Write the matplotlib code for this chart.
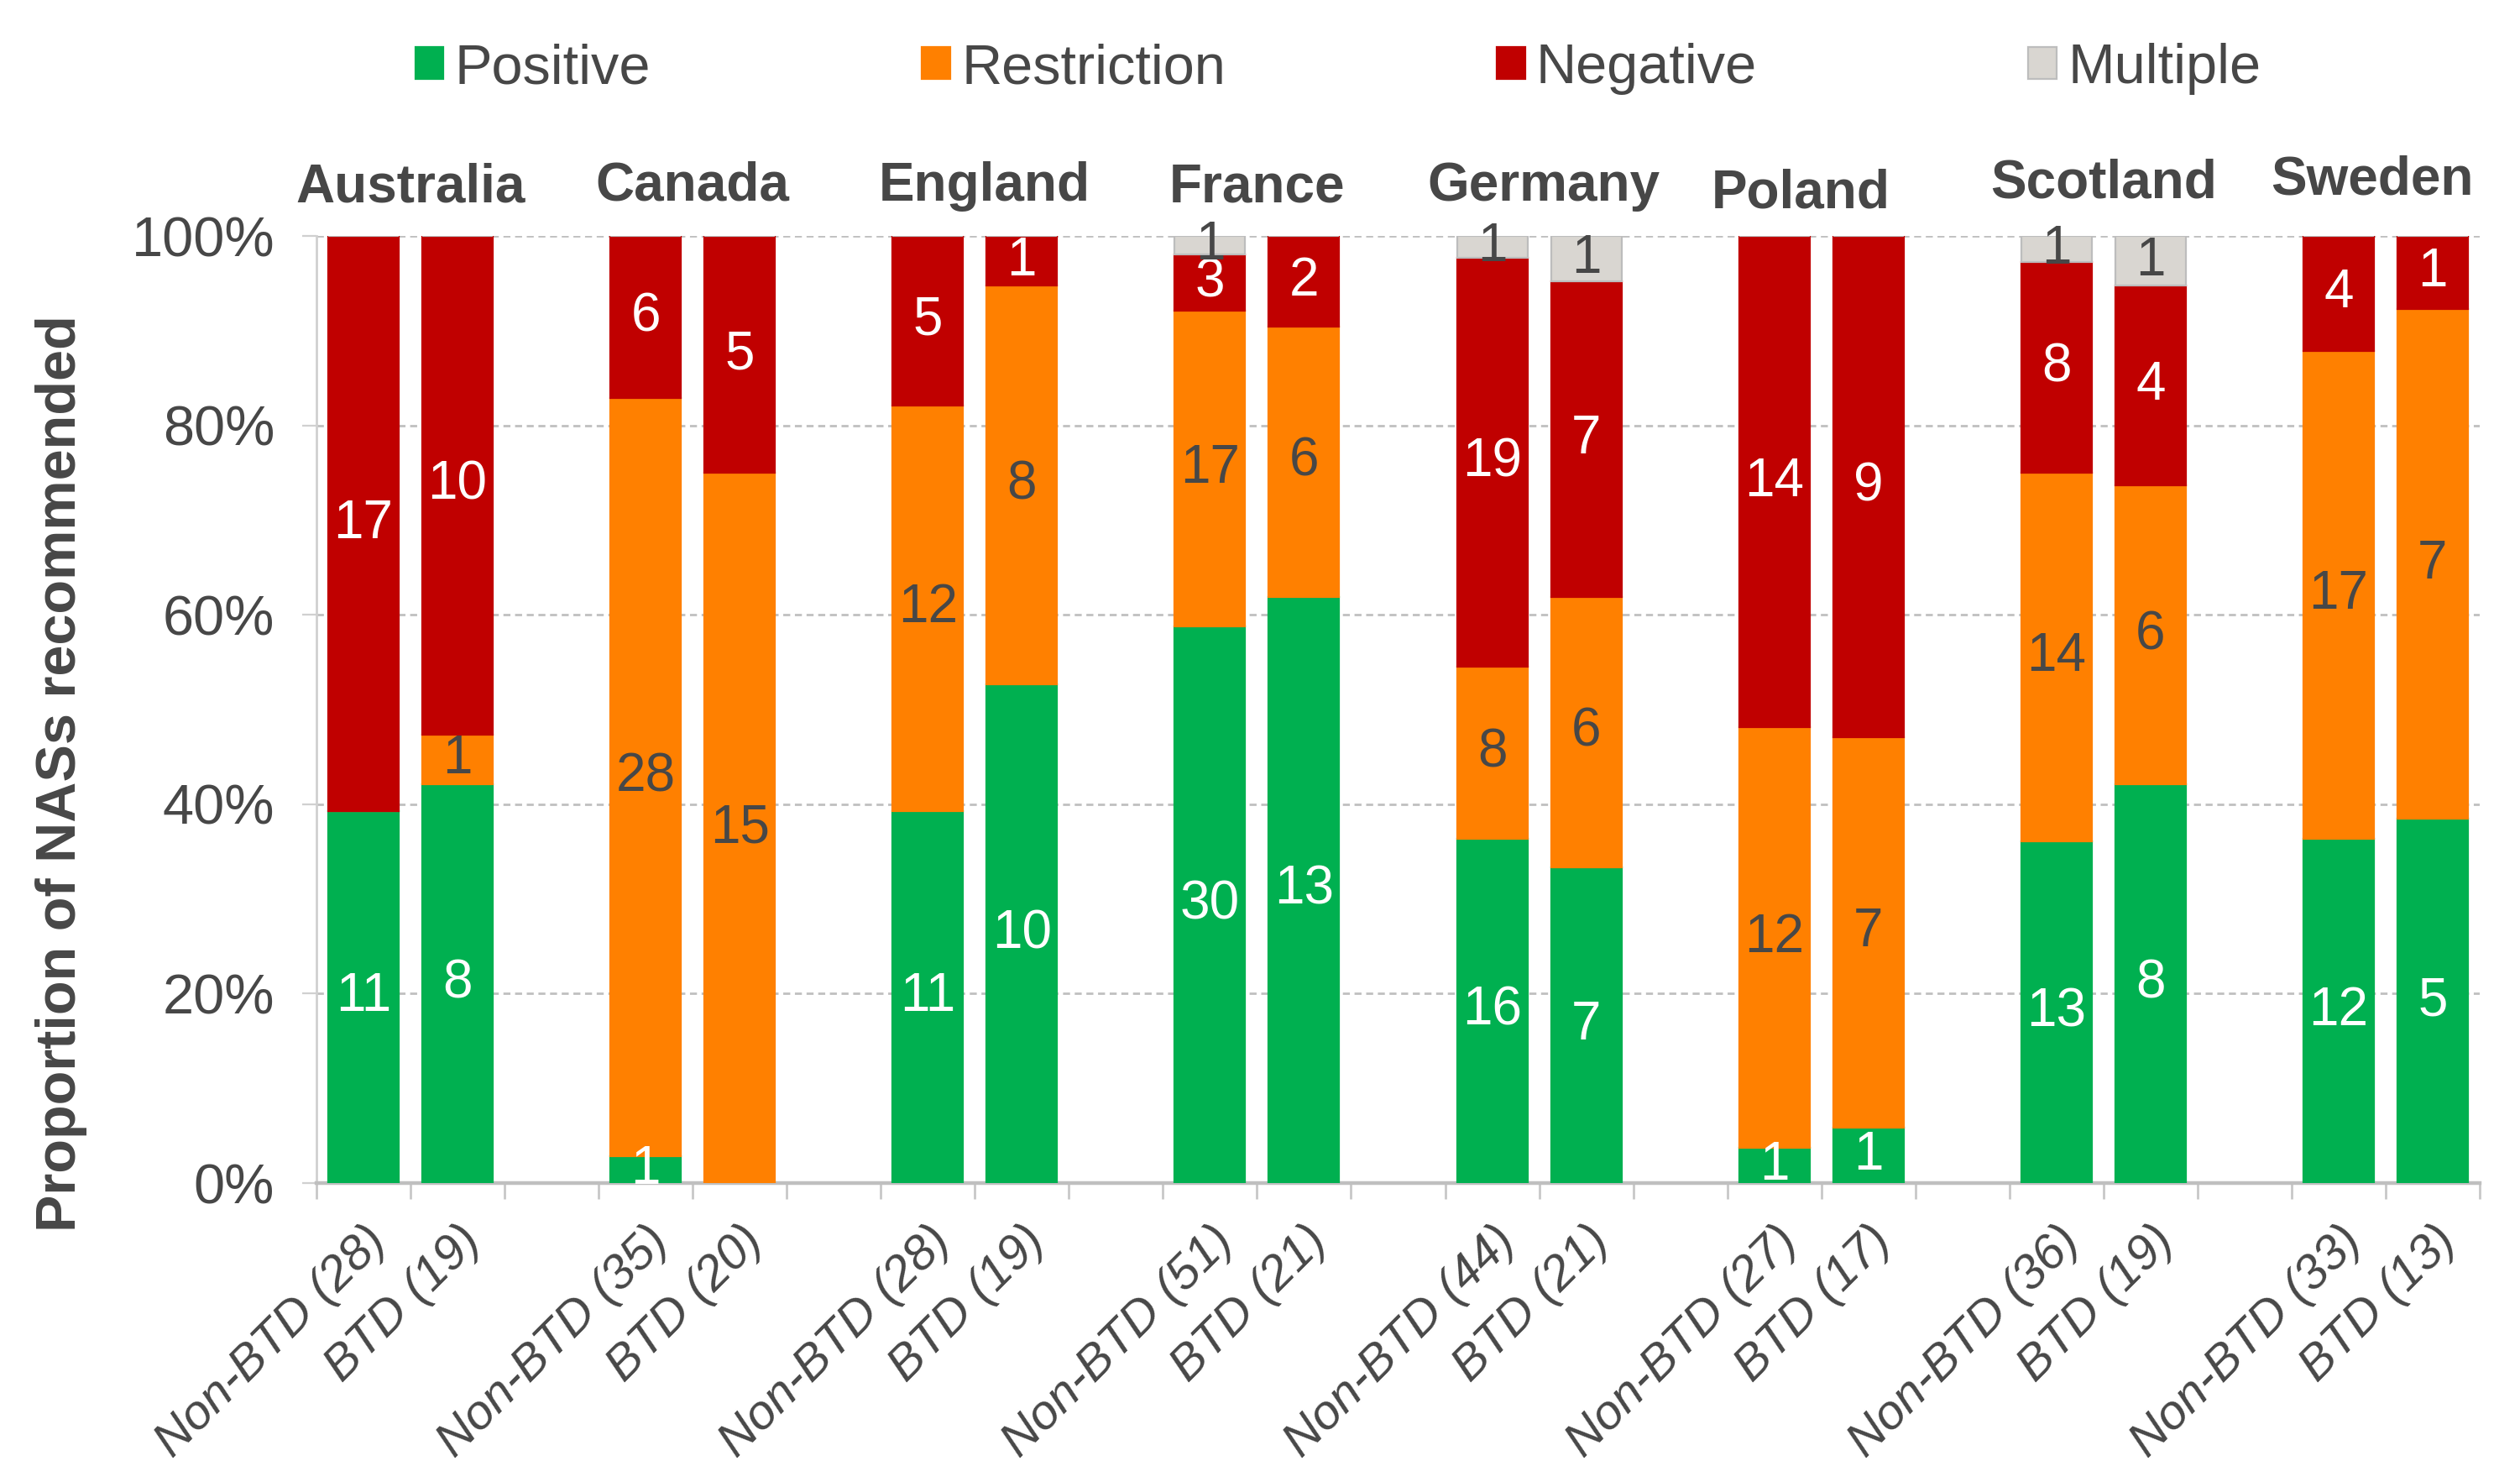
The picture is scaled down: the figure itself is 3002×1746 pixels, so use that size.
import matplotlib
matplotlib.use("Agg")
import matplotlib.pyplot as plt
import matplotlib.transforms as mtransforms
from matplotlib.ticker import FuncFormatter, FixedLocator
import numpy as np

plt.rcParams["font.family"] = ["Liberation Sans", "DejaVu Sans"]

# data: one value per bar, ordered country by country (Non-BTD, BTD)
countries = ["Australia", "Canada", "England", "France", "Germany", "Poland", "Scotland", "Sweden"]
positive = [11, 8, 1, 0, 11, 10, 30, 13, 16, 7, 1, 1, 13, 8, 12, 5]
restriction = [0, 1, 28, 15, 12, 8, 17, 6, 8, 6, 12, 7, 14, 6, 17, 7]
negative = [17, 10, 6, 5, 5, 1, 3, 2, 19, 7, 14, 9, 8, 4, 4, 1]
multiple = [0, 0, 0, 0, 0, 0, 1, 0, 1, 1, 0, 0, 1, 1, 0, 0]
groups = ["Non-BTD", "BTD"]

series = [
    ("Positive", positive, "#00B050", "white"),
    ("Restriction", restriction, "#FF8000", "#474747"),
    ("Negative", negative, "#C00000", "white"),
    ("Multiple", multiple, "#D9D6D1", "#474747"),
]

TXT = "#474747"
FS = 24

counts = np.array([positive, restriction, negative, multiple], dtype=float)
totals = counts.sum(axis=0)
share = counts / totals * 100

x = np.array([3 * g + i for g in range(len(countries)) for i in range(2)])
labels = [f"{groups[i % 2]} ({int(t)})" for i, t in enumerate(totals)]

fig = plt.figure(figsize=(15.01, 8.73), dpi=200)
ax = fig.add_axes([0.1256, 0.193, 0.8584, 0.646])

bottom = np.zeros(len(x))
for k, (name, vals, color, tcol) in enumerate(series):
    ec = "#BDBDBD" if name == "Multiple" else color
    ax.bar(x, share[k], 0.75, bottom=bottom, color=color, edgecolor=ec,
           linewidth=0.8, label=name, zorder=3)
    for xi, b, h, v in zip(x, bottom, share[k], vals):
        if v > 0:
            ax.text(xi, b + h / 2, str(v), ha="center", va="center",
                    color=tcol, fontsize=23, zorder=4)
    bottom += share[k]

ax.set_xlim(-0.5, x[-1] + 0.5)
ax.set_ylim(0, 100)
ax.set_yticks([0, 20, 40, 60, 80, 100])
ax.yaxis.set_major_formatter(FuncFormatter(lambda v, p: f"{v:.0f}%"))
ax.grid(axis="y", linestyle=(0, (3, 2)), color="#C0C0C0", linewidth=1.0, zorder=0)

ax.set_xticks(x)
ax.set_xticklabels(labels, rotation=45, ha="right", va="top", fontstyle="italic",
                   rotation_mode="anchor", fontsize=21, color=TXT)
shift = mtransforms.ScaledTranslation(-5 / 72, 0, fig.dpi_scale_trans)
for t in ax.get_xticklabels():
    t.set_transform(t.get_transform() + shift)
ax.xaxis.set_minor_locator(FixedLocator(np.arange(-0.5, x[-1] + 1, 1)))
ax.tick_params(axis="x", which="major", length=0, pad=15)
ax.tick_params(axis="x", which="minor", length=7, color="#C8C8C8", width=1.0)
ax.tick_params(axis="y", length=6, color="#D0D0D0", labelsize=FS, labelcolor=TXT, pad=12)

for s in ["top", "right"]:
    ax.spines[s].set_visible(False)
ax.spines["left"].set_color("#D0D0D0")
ax.spines["left"].set_linewidth(1.0)
ax.spines["bottom"].set_color("#BFBFBF")
ax.spines["bottom"].set_linewidth(1.6)

ax.set_ylabel("Proportion of NASs recommended", fontsize=FS, fontweight="bold", color=TXT)
ax.yaxis.set_label_coords(-0.106, 0.433)

# country names above each pair
name_y = [1.036, 1.038, 1.037, 1.036, 1.037, 1.030, 1.040, 1.044]
name_dx = [0, 0, 0.1, 0, 0.05, -0.22, 0, -0.14]
trans = mtransforms.blended_transform_factory(ax.transData, ax.transAxes)
for g, (c, yy, dx) in enumerate(zip(countries, name_y, name_dx)):
    ax.text(3 * g + 0.5 + dx, yy, c, transform=trans, ha="center", va="baseline",
            fontsize=23, fontweight="bold", color=TXT)

leg = fig.legend(loc="center", bbox_to_anchor=(0.531, 0.953), ncol=4, frameon=False,
                 fontsize=FS, handlelength=0.5, handleheight=0.5, handletextpad=0.2,
                 columnspacing=4.85)
for t in leg.get_texts():
    t.set_color(TXT)

fig.savefig("out.png", dpi=200)
